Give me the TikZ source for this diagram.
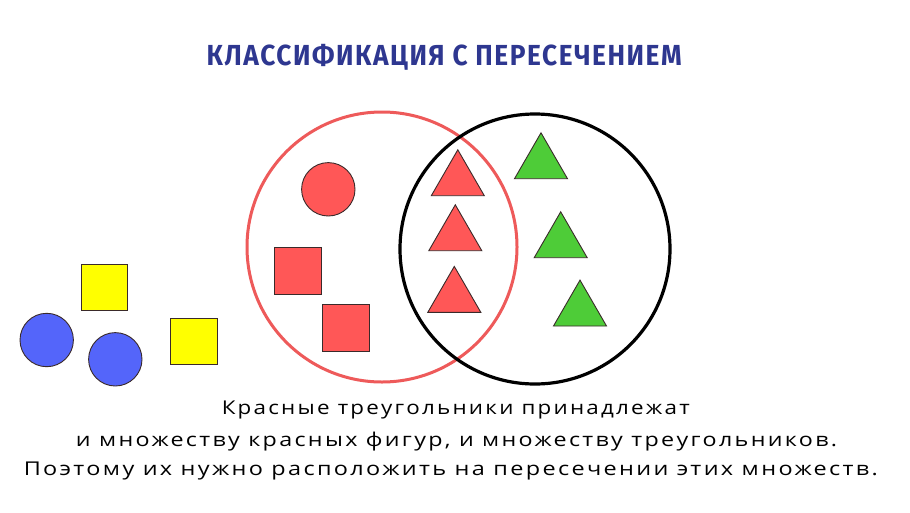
\documentclass[tikz,border=0pt]{standalone}
\usepackage{fontspec}
\usepackage{graphicx}
\usetikzlibrary{shapes.geometric}
\newfontfamily\titlefont[LetterSpace=6]{Fira Sans}
\newfontfamily\bodyfont[LetterSpace=10]{Open Sans}
\definecolor{shred}{HTML}{FF5757}
\definecolor{ringred}{HTML}{EE5A5A}
\definecolor{shgreen}{HTML}{4ECC38}
\definecolor{shblue}{HTML}{5465FA}
\definecolor{shyellow}{HTML}{FFFF00}
\definecolor{titleblue}{HTML}{2E3790}
\definecolor{edge}{HTML}{3A2A2A}
\tikzset{
  shapebase/.style={draw=edge, line width=0.9pt, inner sep=0pt, outer sep=0pt},
  rsq/.style={shapebase, rectangle, fill=shred, minimum size=46.5pt},
  ysq/.style={shapebase, rectangle, fill=shyellow, minimum size=46.5pt},
  rdot/.style={shapebase, circle, fill=shred, minimum size=53.4pt},
  bdot/.style={shapebase, circle, fill=shblue, minimum size=53.4pt},
  tri/.style={shapebase, regular polygon, regular polygon sides=3, minimum size=61.2pt},
  rtri/.style={tri, fill=shred},
  gtri/.style={tri, fill=shgreen},
  setring/.style={circle, inner sep=0pt, minimum size=270pt},
  bodyline/.style={anchor=base, inner sep=0pt, font=\bodyfont\fontsize{19}{22}\selectfont}
}
\begin{document}
\begin{tikzpicture}[x=1pt,y=-1pt]
\useasboundingbox[fill=white] (0,0) rectangle (910,512);
% title
\node[anchor=base, inner sep=0pt, text=titleblue] (title) at (444.2,65)
  {\resizebox{475pt}{\height}{\titlefont\bfseries\fontsize{29}{32}\selectfont КЛАССИФИКАЦИЯ С ПЕРЕСЕЧЕНИЕМ}};
% sets
\node[setring, draw=ringred, line width=3pt] (redset) at (382,247) {};
\node[setring, draw=black, line width=3.2pt] (triset) at (535,249) {};
% red figures
\node[rdot] (rc) at (328.3,189.3) {};
\node[rsq] (rs1) at (297.7,270.9) {};
\node[rsq] (rs2) at (346,327.9) {};
\node[rtri] (rt1) at (457.8,180.4) {};
\node[rtri] (rt2) at (455.3,235.4) {};
\node[rtri] (rt3) at (454.3,297) {};
% green triangles
\node[gtri] (gt1) at (541,163.4) {};
\node[gtri] (gt2) at (560.7,242.4) {};
\node[gtri] (gt3) at (580,310.7) {};
% outside figures
\node[ysq] (ys1) at (104.2,287.5) {};
\node[ysq] (ys2) at (193.7,341.5) {};
\node[bdot] (bc1) at (46.7,340) {};
\node[bdot] (bc2) at (115.3,359.3) {};
% text
\node[bodyline] (l1) at (455.8,414) {\resizebox{468pt}{\height}{Красные треугольники принадлежат}};
\node[bodyline] (l2) at (456.5,446.7) {\resizebox{761pt}{\height}{и множеству красных фигур, и множеству треугольников.}};
\node[bodyline] (l3) at (450.8,475) {\resizebox{854pt}{\height}{Поэтому их нужно расположить на пересечении этих множеств.}};
\end{tikzpicture}
\end{document}
